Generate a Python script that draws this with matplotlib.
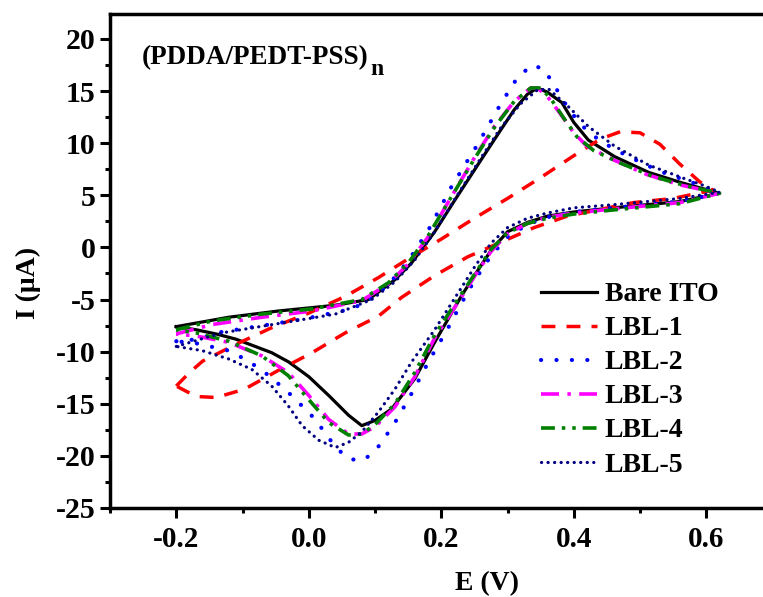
import matplotlib
matplotlib.use("Agg")
import matplotlib.pyplot as plt
from matplotlib.ticker import MultipleLocator

# E (V) / I (uA), forward scan then reverse scan
bare_e = [-0.2, -0.121, -0.046, 0.04, 0.09, 0.13, 0.155, 0.19, 0.22, 0.26, 0.29, 0.31, 0.33, 0.345,
          0.36, 0.382, 0.40, 0.422, 0.462, 0.513, 0.563, 0.62,
          0.56, 0.46, 0.40, 0.36, 0.33, 0.30, 0.276, 0.25, 0.23, 0.19, 0.16, 0.125, 0.10, 0.08,
          0.06, 0.03, 0.0, -0.03, -0.056, -0.085, -0.11, -0.14, -0.17, -0.2]
bare_i = [-7.6, -6.7, -6.1, -5.55, -5.0, -3.1, -1.5, 1.5, 4.5, 8.4, 11.3, 13.2, 14.7, 15.3,
          14.9, 13.9, 12.0, 10.3, 8.7, 7.2, 6.2, 5.2,
          4.4, 3.8, 3.4, 3.0, 2.4, 1.5, -0.2, -2.7, -4.7, -9.1, -12.6, -15.5, -16.6, -17.1,
          -16.1, -14.2, -12.4, -11.0, -10.1, -9.4, -8.8, -8.3, -7.9, -7.6]

lbl1_e = [-0.2, -0.18, -0.16, -0.11, -0.056, 0.0, 0.055, 0.105, 0.15, 0.2, 0.25, 0.3, 0.35, 0.4,
          0.44, 0.47, 0.5, 0.53, 0.56, 0.59, 0.61,
          0.55, 0.49, 0.39, 0.34, 0.29, 0.24, 0.19, 0.14, 0.105, 0.055, 0.005, -0.046, -0.097,
          -0.14, -0.17, -0.2]
lbl1_i = [-13.3, -12.0, -10.9, -9.3, -7.7, -6.3, -4.7, -2.9, -1.1, 0.8, 2.8, 4.7, 6.7, 8.8,
          10.4, 11.1, 11.0, 9.9, 8.0, 6.3, 5.5,
          4.7, 4.3, 3.0, 1.9, 0.5, -0.9, -2.7, -4.8, -6.6, -8.2, -10.1, -11.8, -13.6,
          -14.4, -14.3, -13.3]

lbl2_e = [-0.2, -0.166, -0.14, -0.09, -0.01, 0.065, 0.09, 0.12, 0.15, 0.18, 0.216, 0.256, 0.29,
          0.315, 0.337, 0.355, 0.37, 0.39, 0.41, 0.44, 0.48, 0.53, 0.58, 0.62,
          0.56, 0.46, 0.40, 0.36, 0.33, 0.30, 0.275, 0.25, 0.23, 0.208, 0.183, 0.158, 0.133,
          0.108, 0.092, 0.075, 0.055, 0.03, 0.01, -0.026, -0.06, -0.091, -0.121, -0.17, -0.2]
lbl2_i = [-9.0, -8.8, -8.2, -7.7, -6.9, -5.9, -5.1, -3.6, -1.3, 1.6, 5.9, 10.0, 13.8,
          16.3, 17.5, 17.1, 15.6, 13.5, 11.8, 10.2, 8.8, 7.3, 6.2, 5.2,
          4.4, 3.8, 3.4, 2.9, 2.2, 1.0, -0.8, -3.2, -5.4, -8.0, -10.7, -13.7, -16.5,
          -18.9, -20.0, -20.5, -20.1, -18.3, -16.5, -14.2, -12.3, -10.9, -9.9, -9.2, -9.0]

lbl3_e = [-0.2, -0.146, -0.071, 0.005, 0.08, 0.12, 0.15, 0.18, 0.21, 0.25, 0.28, 0.31, 0.335,
          0.345, 0.36, 0.38, 0.40, 0.42, 0.46, 0.51, 0.56, 0.62,
          0.56, 0.46, 0.40, 0.36, 0.33, 0.30, 0.275, 0.25, 0.23, 0.19, 0.16, 0.13, 0.10, 0.08,
          0.06, 0.03, 0.0, -0.031, -0.071, -0.121, -0.17, -0.2]
lbl3_i = [-8.3, -7.4, -6.7, -6.1, -5.1, -3.5, -1.6, 1.0, 4.3, 8.6, 11.6, 14.0, 15.3,
          15.3, 14.5, 12.8, 11.0, 9.7, 8.4, 7.0, 6.0, 5.2,
          4.3, 3.7, 3.3, 2.9, 2.3, 1.3, -0.4, -2.8, -4.8, -8.7, -12.4, -15.3, -17.2, -17.9,
          -17.9, -16.5, -14.2, -12.0, -10.4, -9.1, -8.5, -8.3]

lbl4_e = [-0.2, -0.146, -0.071, 0.005, 0.08, 0.12, 0.15, 0.18, 0.21, 0.25, 0.28, 0.31, 0.335,
          0.35, 0.365, 0.385, 0.405, 0.43, 0.47, 0.52, 0.57, 0.62,
          0.56, 0.46, 0.40, 0.36, 0.33, 0.30, 0.275, 0.25, 0.23, 0.19, 0.16, 0.13, 0.10, 0.08,
          0.06, 0.03, 0.0, -0.031, -0.071, -0.121, -0.17, -0.2]
lbl4_i = [-7.9, -7.05, -6.4, -5.9, -5.0, -3.4, -1.5, 1.1, 4.3, 8.5, 11.5, 14.0, 15.3,
          15.3, 14.3, 12.4, 10.6, 9.3, 8.1, 6.8, 5.9, 5.2,
          4.2, 3.6, 3.2, 2.8, 2.3, 1.4, -0.2, -2.6, -4.5, -8.4, -12.0, -15.0, -17.0, -17.9,
          -18.0, -16.8, -14.6, -12.3, -10.4, -9.0, -8.2, -7.9]

lbl5_e = [-0.2, -0.131, -0.036, 0.04, 0.095, 0.13, 0.16, 0.19, 0.22, 0.26, 0.29, 0.32, 0.345,
          0.362, 0.392, 0.422, 0.462, 0.513, 0.563, 0.598, 0.62,
          0.56, 0.46, 0.40, 0.36, 0.33, 0.30, 0.275, 0.25, 0.23, 0.19, 0.155, 0.13, 0.105, 0.08,
          0.06, 0.04, 0.015, -0.01, -0.031, -0.056, -0.086, -0.121, -0.161, -0.2]
lbl5_i = [-9.5, -8.2, -7.2, -6.4, -5.0, -3.3, -1.2, 1.5, 4.6, 8.6, 11.5, 13.8, 15.1,
          15.2, 13.5, 11.6, 9.7, 7.9, 6.7, 5.9, 5.3,
          4.7, 4.1, 3.8, 3.3, 2.8, 1.9, 0.4, -1.9, -3.9, -7.9, -11.0, -13.6, -15.8, -17.7,
          -18.7, -19.2, -18.5, -17.1, -15.2, -13.3, -11.7, -10.7, -9.9, -9.5]

labels = ["Bare ITO", "LBL-1", "LBL-2", "LBL-3", "LBL-4", "LBL-5"]

plt.rcParams.update({
    "font.family": ["Liberation Serif", "DejaVu Serif"],
    "font.weight": "bold",
    "lines.scale_dashes": False,
})

fig = plt.figure(figsize=(7.63, 5.97), dpi=100)
ax = fig.add_axes([0.1442, 0.1491, 0.8683, 0.8275])

styles = [
    dict(color="black", lw=2.3, ls="-"),
    dict(color="#FF0000", lw=2.5, dashes=(10, 8)),
    dict(color="#0000FF", lw=3.0, dashes=(0.1, 11), dash_capstyle="round"),
    dict(color="#FF00FF", lw=2.6, dashes=(13, 6, 2.5, 6)),
    dict(color="#008000", lw=2.6, dashes=(10, 5, 2.5, 5, 2.5, 5)),
    dict(color="#000080", lw=2.3, dashes=(0.1, 4.6), dash_capstyle="round"),
]
series = [(bare_e, bare_i), (lbl1_e, lbl1_i), (lbl2_e, lbl2_i),
          (lbl3_e, lbl3_i), (lbl4_e, lbl4_i), (lbl5_e, lbl5_i)]
for (e, i), lab, st in zip(series, labels, styles):
    ax.plot(e, i, label=lab, **st)

ax.set_xlim(-0.3, 0.7)
ax.set_ylim(-25, 22.4)
ax.xaxis.set_minor_locator(MultipleLocator(0.1))
ax.yaxis.set_minor_locator(MultipleLocator(2.5))
ax.set_xticks([-0.2, 0.0, 0.2, 0.4, 0.6])
ax.set_xticklabels(["-0.2", "0.0", "0.2", "0.4", "0.6"])
ax.set_yticks(range(-25, 21, 5))
ax.set_yticklabels([str(v) for v in range(-25, 21, 5)])
ax.tick_params(which="both", direction="out", width=2.2, top=False, right=False)
ax.tick_params(which="major", length=7.2, pad=3)
ax.tick_params(axis="y", which="major", labelsize=21.5)
ax.tick_params(axis="x", which="major", labelsize=21, pad=6)
ax.tick_params(which="minor", length=3.6)
for sp in ax.spines.values():
    sp.set_linewidth(2.5)

ax.set_xlabel("E (V)", fontsize=20, fontweight="bold")
ax.set_ylabel("I (\u03bcA)", fontsize=20, fontweight="bold")
ax.xaxis.set_label_coords(0.569, -0.128)
ax.yaxis.set_label_coords(-0.104, 0.455)

title = ax.text(0.048, 0.899, "(PDDA/PEDT-PSS)", transform=ax.transAxes,
                fontsize=19.5, fontweight="bold", va="baseline", ha="left")
fig.canvas.draw()
bb = title.get_window_extent()
ax.annotate("n", xy=(bb.x1, bb.y0), xycoords="figure pixels", xytext=(1, -7),
            textcoords="offset points", fontsize=17, fontweight="bold",
            va="bottom", ha="left")

fig.legend(loc="upper left", bbox_to_anchor=(0.709, 0.528), frameon=False,
           fontsize=20, handlelength=2.0, handletextpad=0.3, labelspacing=0.31,
           borderpad=0, borderaxespad=0)

fig.savefig("out.png", dpi=100)
